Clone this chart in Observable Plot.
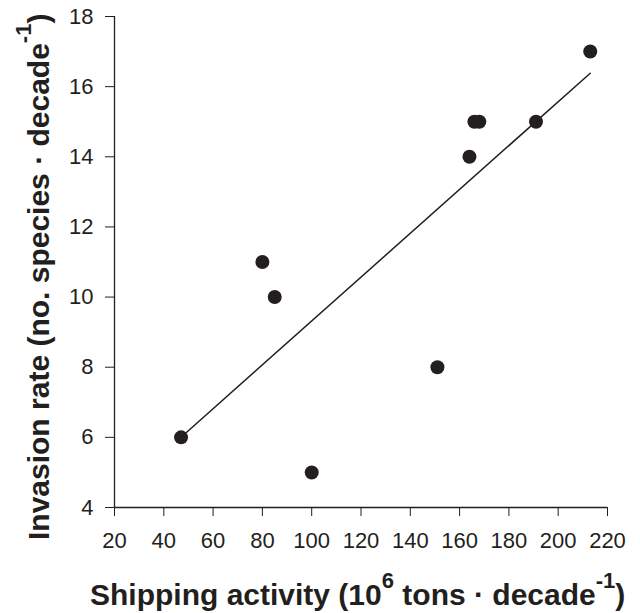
<!DOCTYPE html>
<html><head><meta charset="utf-8">
<script src="https://cdn.jsdelivr.net/npm/d3@7"></script>
<script src="https://cdn.jsdelivr.net/npm/@observablehq/plot@0.6"></script>
<style>body{margin:0;background:#fff}</style>
</head><body><div id="chart"></div>
<script>
const shipping = [47, 80, 85, 100, 151, 164, 166, 168, 191, 213];
const invasion = [6, 11, 10, 5, 8, 14, 15, 15, 15, 17];
const xTicks = [20, 40, 60, 80, 100, 120, 140, 160, 180, 200, 220];
const yTicks = [4, 6, 8, 10, 12, 14, 16, 18];
const data = shipping.map((x, i) => ({x, y: invasion[i]}));
const ink = "#231f20";
const font = "'Liberation Sans', Arial, sans-serif";

const chart = Plot.plot({
  width: 640, height: 613,
  marginLeft: 114, marginRight: 33, marginTop: 16, marginBottom: 106,
  style: {fontFamily: font, fontSize: "22px", color: ink, background: "#fff", overflow: "visible"},
  x: {domain: [20, 220]},
  y: {domain: [4, 18]},
  marks: [
    Plot.axisX({ticks: xTicks, tickSize: 9, tickPadding: 16, fontSize: 22, label: null, stroke: ink, fill: ink}),
    Plot.axisY({ticks: yTicks, tickSize: 9, tickPadding: 12, fontSize: 22, label: null, stroke: ink, fill: ink}),
    Plot.ruleY([4], {stroke: ink, strokeWidth: 1.3}),
    Plot.ruleX([20], {stroke: ink, strokeWidth: 1.3}),
    Plot.linearRegressionY(data, {x: "x", y: "y", stroke: ink, strokeWidth: 1.5, ci: 0}),
    Plot.dot(data, {x: "x", y: "y", r: 7, fill: ink, stroke: "none"})
  ]
});
document.getElementById("chart").appendChild(chart);

const svg = d3.select(chart);
const xt = svg.append("text")
  .attr("x", 90).attr("y", 605).attr("text-anchor", "start")
  .attr("font-family", font).attr("font-size", 30).attr("font-weight", "bold").attr("fill", ink);
xt.append("tspan").text("Shipping activity (10");
xt.append("tspan").attr("dy", -17).attr("font-size", 22).text("6");
xt.append("tspan").attr("dy", 17).text(" tons · decade");
xt.append("tspan").attr("dy", -17).attr("font-size", 22).text("-1");
xt.append("tspan").attr("dy", 17).text(")");

const yt = svg.append("text")
  .attr("transform", "translate(49,540) rotate(-90)").attr("text-anchor", "start")
  .attr("font-family", font).attr("font-size", 30).attr("font-weight", "bold").attr("fill", ink);
yt.append("tspan").text("Invasion rate (no. species · decade");
yt.append("tspan").attr("dy", -18).attr("font-size", 22).text("-1");
yt.append("tspan").attr("dy", 18).text(")");
</script>
</body></html>
